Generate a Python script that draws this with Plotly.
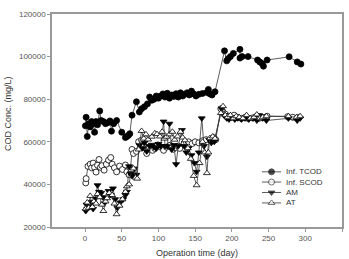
import plotly.graph_objects as go

# ---------------- data ----------------
tcod_day = [0.5, 1.5, 3, 5, 7, 9, 11, 13, 15, 17, 20, 22, 25, 28, 31, 34, 36, 39, 43, 50, 55, 57, 59, 61, 64, 70, 74, 77, 81, 85, 88, 91, 94, 97, 100, 103, 106, 109, 112, 115, 118, 121, 124, 127, 130, 133, 136, 139, 142, 145, 148, 151, 155, 160, 166, 168, 170, 173, 177, 190, 193, 195, 198, 202, 211, 211, 214, 222, 235, 238, 241, 243, 248, 278, 289, 294]
tcod_val = [67500, 71500, 62500, 68500, 67000, 69500, 68500, 64500, 69500, 68000, 74500, 70000, 69500, 68500, 69000, 69800, 65000, 68500, 70000, 64500, 62000, 62500, 63000, 63800, 72500, 78800, 74000, 75500, 76500, 77800, 81000, 79500, 80000, 81500, 80500, 81500, 82500, 81000, 82800, 80500, 82000, 81300, 82600, 81000, 83000, 81500, 82300, 83000, 82000, 83800, 82500, 81500, 82300, 82700, 83200, 84600, 82500, 82000, 83500, 102700, 98000, 99000, 100000, 101500, 103400, 99300, 100000, 100000, 98400, 97500, 96800, 95500, 98400, 99900, 97500, 96500]

scod_day = [1, 1.5, 4, 7, 9, 11, 13, 15, 17, 19, 21, 23, 26, 29, 32, 35, 37, 40, 43, 47, 51, 55, 57, 60, 62, 64, 66, 70, 73, 77, 80, 84, 88, 92, 95, 99, 103, 107, 111, 116, 120, 123, 127, 129, 135, 141, 146, 150, 155, 160, 165, 171, 175, 178, 185, 188, 191, 195, 199, 203, 208, 213, 218, 222, 228, 234, 237, 242, 248, 276, 283, 291]
scod_val = [40700, 42700, 48500, 49500, 47800, 50000, 48000, 45800, 49000, 51700, 48000, 48800, 46700, 49500, 51400, 52600, 49500, 47800, 45900, 48600, 47000, 49100, 45900, 44500, 47500, 56400, 54500, 55500, 60000, 60800, 58000, 54500, 57300, 56000, 56900, 58500, 57500, 56000, 57500, 58400, 56500, 57300, 58000, 56900, 59200, 60000, 59200, 60000, 59500, 60500, 61000, 60800, 62000, 61000, 75500, 74000, 73000, 72000, 71500, 72500, 71500, 71000, 71500, 71000, 71200, 72000, 71000, 71500, 72000, 71800, 71500, 71500]

am_day = [1, 2, 3, 6, 9, 11, 14, 17, 19, 22, 24, 26, 29, 32, 35, 38, 41, 44, 48, 52, 55, 57, 60, 62, 64, 67, 70, 74, 78, 81, 84, 88, 91, 94, 97, 100, 103, 107, 109, 112, 115, 118, 121, 124, 127, 132, 135, 138, 141, 145, 149, 152, 155, 159, 162, 166, 169, 172, 176, 186, 189, 193, 196, 200, 204, 208, 213, 218, 223, 229, 234, 237, 242, 247, 277, 289, 293]
am_val = [27500, 30500, 28600, 29500, 31800, 28500, 33400, 39600, 36500, 36000, 34000, 31000, 33500, 36900, 35000, 38100, 33000, 29000, 31500, 33000, 35000, 36500, 48500, 45000, 44000, 47400, 44500, 58400, 57000, 59500, 55500, 58000, 58600, 57500, 56900, 59000, 57900, 69500, 58000, 57900, 68500, 56400, 58500, 49500, 58000, 65500, 58000, 55000, 57000, 53700, 50000, 45900, 55000, 71000, 58000, 53000, 61000, 59500, 60000, 75500, 72500, 71000, 70500, 71500, 70500, 71000, 70500, 71000, 70500, 71000, 70000, 72500, 71000, 70000, 71000, 70000, 71000]

at_day = [1, 3, 5, 7, 10, 12, 15, 17, 20, 23, 25, 28, 30, 33, 37, 40, 43, 47, 51, 55, 57, 60, 63, 66, 69, 71, 73, 77, 80, 83, 86, 91, 95, 98, 102, 105, 108, 111, 115, 119, 122, 126, 130, 133, 136, 140, 144, 148, 152, 156, 160, 163, 166, 168, 170, 174, 177, 185, 188, 191, 194, 198, 202, 206, 210, 215, 220, 225, 230, 234, 238, 242, 247, 277, 288, 293]
at_val = [28600, 31500, 29000, 34600, 29400, 32000, 31000, 35500, 34000, 30500, 27500, 32000, 33500, 36000, 35000, 31000, 26000, 30000, 33000, 36500, 39100, 40000, 46700, 47500, 43200, 42700, 56400, 65100, 61500, 63500, 61100, 62400, 64000, 63600, 62500, 64700, 61500, 62400, 63500, 64700, 61000, 62500, 64700, 62000, 60700, 57000, 52000, 44000, 39600, 50000, 60000, 55000, 45300, 55000, 61700, 62500, 61500, 73500, 76700, 72500, 71500, 72500, 71000, 72000, 71500, 71000, 72500, 71000, 71500, 72800, 71000, 71500, 72000, 72000, 71500, 72000]

series_names = ["Inf. TCOD", "Inf. SCOD", "AM", "AT"]
x_ticks = [0, 50, 100, 150, 200, 250, 300, 350]
y_ticks = [20000, 40000, 60000, 80000, 100000, 120000]

FONT = "Liberation Sans, Arial"
LINE = dict(color="#333333", width=0.8)
styles = [
    dict(symbol="circle", color="black"),
    dict(symbol="circle", color="white"),
    dict(symbol="triangle-down", color="black"),
    dict(symbol="triangle-up", color="white"),
]
data = [(tcod_day, tcod_val), (scod_day, scod_val), (am_day, am_val), (at_day, at_val)]

fig = go.Figure()
for (xs, ys), name, st in zip(data, series_names, styles):
    fig.add_trace(go.Scatter(x=xs, y=ys, mode="lines+markers", name=name, showlegend=False,
                             line=LINE,
                             marker=dict(symbol=st["symbol"], size=6, color=st["color"],
                                         line=dict(color="black", width=0.8))))

# manual compact legend (paper-fraction positions on an overlay axis)
leg_x0, leg_x1, leg_xm, leg_tx = 0.724, 0.79, 0.757, 0.80
leg_y = [0.259, 0.211, 0.162, 0.113]
for name, st, yy in zip(series_names, styles, leg_y):
    fig.add_trace(go.Scatter(x=[leg_x0, leg_xm, leg_x1], y=[yy, yy, yy], xaxis="x2", yaxis="y2",
                             mode="lines+markers", showlegend=False, hoverinfo="skip",
                             line=LINE,
                             marker=dict(symbol=st["symbol"], size=[0, 6, 0], color=st["color"],
                                         line=dict(color="black", width=[0, 0.8, 0]))))
    fig.add_annotation(x=leg_tx, y=yy, xref="x2", yref="y2", text=name, showarrow=False,
                       xanchor="left", yanchor="middle",
                       font=dict(family=FONT, size=8, color="#333333"))

# axis titles as annotations (fixed placement)
fig.add_annotation(x=0.5, y=0, xref="paper", yref="paper", yshift=-26, text="Operation time (day)",
                   showarrow=False, xanchor="center", yanchor="middle",
                   font=dict(family=FONT, size=9, color="#333333"))
fig.add_annotation(x=0, y=0.53, xref="paper", yref="paper", xshift=-44, text="COD Conc. (mg/L)",
                   textangle=-90, showarrow=False, xanchor="center", yanchor="middle",
                   font=dict(family=FONT, size=9, color="#333333"))

AX = dict(showline=True, linecolor="#999999", linewidth=1.5, mirror=True,
          ticks="outside", ticklen=3, tickcolor="#999999", tickwidth=1,
          showgrid=False, zeroline=False, automargin=False,
          tickfont=dict(family=FONT, size=8, color="#555555"))

fig.update_layout(
    xaxis=dict(range=[-45, 350], tickvals=x_ticks, **AX),
    yaxis=dict(range=[20000, 120000], tickvals=y_ticks, tickformat="d", **AX),
    xaxis2=dict(range=[0, 1], overlaying="x", visible=False, fixedrange=True),
    yaxis2=dict(range=[0, 1], overlaying="y", visible=False, fixedrange=True),
    width=349, height=259,
    margin=dict(l=52, r=7, t=14, b=32),
    paper_bgcolor="white", plot_bgcolor="white",
    showlegend=False,
)

fig.write_html("out.html")
